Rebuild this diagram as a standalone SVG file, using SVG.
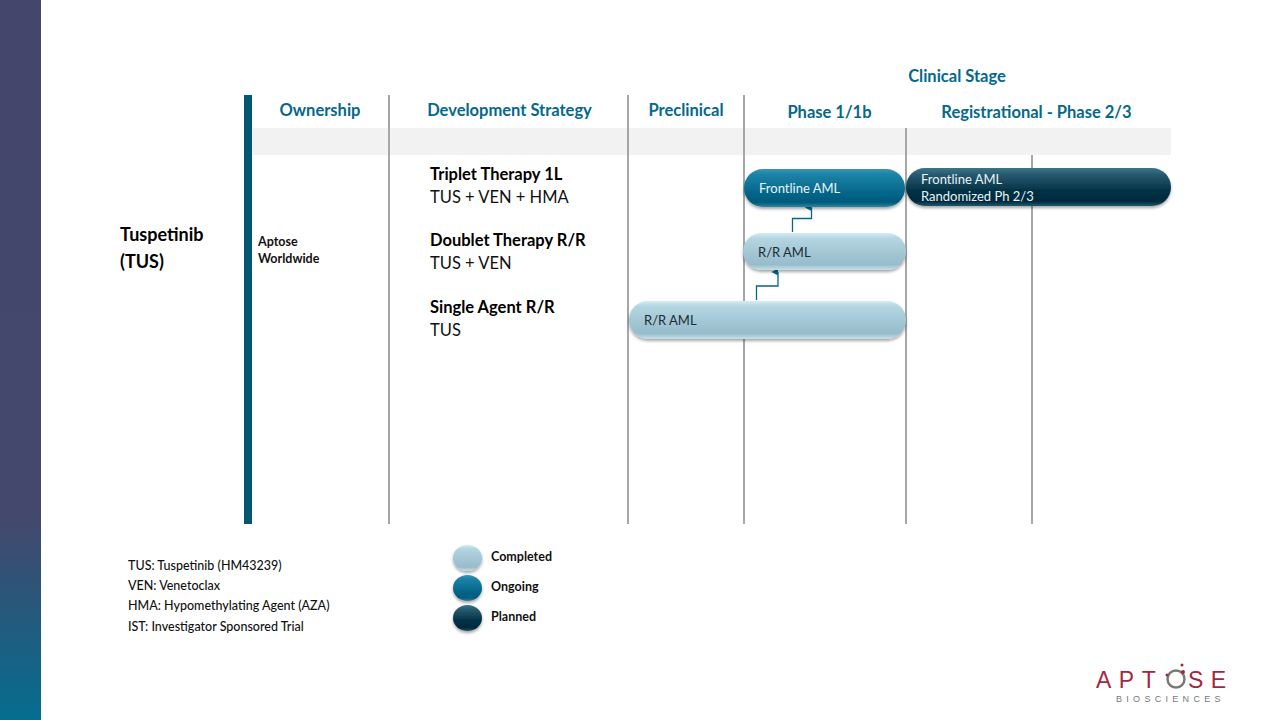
<svg xmlns="http://www.w3.org/2000/svg" width="1280" height="720" viewBox="0 0 1280 720">
<style>
text{font-family:Lato,"Open Sans","Liberation Sans",sans-serif}
.h{font-size:16.5px;font-weight:700;fill:#03688c;text-anchor:middle}
.t{font-size:16.5px;font-weight:700;fill:#000}
.s{font-size:16.5px;fill:#111}
.k{font-size:12.5px;font-weight:700;fill:#111}
.w{font-size:12.5px;font-weight:500;fill:#111}
.pd{font-size:13px;fill:#1d2b33}
.pl{font-size:13px;fill:#e8f3f7}
.v{stroke:#a6a6a6;stroke-width:2;fill:none}
.c{stroke:#03688c;stroke-width:1.3;fill:none;marker-end:url(#ah)}
</style>
<defs>
<linearGradient id="side" x1="0" y1="0" x2="0" y2="1"><stop offset="0" stop-color="#44466b"/><stop offset=".72" stop-color="#43486c"/><stop offset="1" stop-color="#046d8f"/></linearGradient>
<linearGradient id="gc" x1="0" y1="0" x2="0" y2="1"><stop offset="0" stop-color="#d5ecf3"/><stop offset=".14" stop-color="#b4d6e2"/><stop offset=".55" stop-color="#a2c6d4"/><stop offset=".85" stop-color="#97bccb"/><stop offset="1" stop-color="#c5e0e9"/></linearGradient>
<linearGradient id="go" x1="0" y1="0" x2="0" y2="1"><stop offset="0" stop-color="#3b94b2"/><stop offset=".15" stop-color="#1c83a6"/><stop offset=".6" stop-color="#05688c"/><stop offset=".88" stop-color="#045a7a"/><stop offset="1" stop-color="#2a87a6"/></linearGradient>
<linearGradient id="gp" x1="0" y1="0" x2="0" y2="1"><stop offset="0" stop-color="#3f7488"/><stop offset=".18" stop-color="#27596e"/><stop offset=".6" stop-color="#033246"/><stop offset=".88" stop-color="#03293b"/><stop offset="1" stop-color="#1f5a70"/></linearGradient>
<filter id="sh" x="-10%" y="-20%" width="120%" height="150%"><feDropShadow dx="0" dy="2" stdDeviation="1.6" flood-color="#000" flood-opacity=".35"/></filter>
<marker id="ah" viewBox="0 0 8 8" refX="4" refY="7.5" markerWidth="7" markerHeight="8" markerUnits="userSpaceOnUse" orient="auto-start-reverse"><path d="M8 4 0.5 8 0.5 0Z" transform="rotate(-90 4 4)" fill="#03688c"/></marker>
</defs>
<rect id="side-bar" width="41" height="720" fill="url(#side)"/>
<g id="grid">
<rect x="252" y="128" width="919" height="27" fill="#f2f2f2"/>
<rect x="244" y="95" width="8" height="429" fill="#05566f"/>
<path class="v" d="M389 95V524M628 95V524M744 95V524M906 128V524M1032 155V524"/>
</g>
<g id="headers">
<text class="h" x="320" y="116">Ownership</text>
<text class="h" x="509.500" y="116">Development Strategy</text>
<text class="h" x="686" y="116">Preclinical</text>
<text class="h" x="829.500" y="118">Phase 1/1b</text>
<text class="h" x="1036.500" y="118">Registrational - Phase 2/3</text>
<text class="h" x="957" y="82">Clinical Stage</text>
</g>
<g id="drug"><text class="t" x="120" y="241" style="font-size:18px">Tuspetinib</text><text class="t" x="120" y="268" style="font-size:18px">(TUS)</text></g>
<g id="owner"><text class="k" x="258" y="246">Aptose</text><text class="k" x="258" y="263">Worldwide</text></g>
<g id="strategy">
<text class="t" x="430" y="180">Triplet Therapy 1L</text><text class="s" x="430" y="203">TUS + VEN + HMA</text>
<text class="t" x="430" y="246">Doublet Therapy R/R</text><text class="s" x="430" y="269">TUS + VEN</text>
<text class="t" x="430" y="313">Single Agent R/R</text><text class="s" x="430" y="336">TUS</text>
</g>
<g id="connectors">
<path class="c" d="M792.500 232V218.500H811.500V207.500"/>
<path class="c" d="M756.500 300V286H778V272"/>
</g>
<g id="bar-frontline-ongoing"><rect x="744" y="169" width="161" height="38" rx="19" fill="url(#go)" filter="url(#sh)"/><text class="pl" x="759" y="193">Frontline AML</text></g>
<g id="bar-frontline-planned"><rect x="906" y="168" width="265" height="38" rx="19" fill="url(#gp)" filter="url(#sh)"/><text class="pl" x="921" y="184">Frontline AML</text><text class="pl" x="921" y="201">Randomized Ph 2/3</text></g>
<g id="bar-rr-phase1"><rect x="743" y="233" width="163" height="37" rx="18.500" fill="url(#gc)" filter="url(#sh)"/><text class="pd" x="758" y="257">R/R AML</text></g>
<g id="bar-rr-preclinical"><rect x="629" y="301" width="277" height="38" rx="19" fill="url(#gc)" filter="url(#sh)"/><text class="pd" x="644" y="325">R/R AML</text></g>
<g id="abbreviations">
<text class="w" x="128" y="570">TUS: Tuspetinib (HM43239)</text>
<text class="w" x="128" y="590">VEN: Venetoclax</text>
<text class="w" x="128" y="610">HMA: Hypomethylating Agent (AZA)</text>
<text class="w" x="128" y="631">IST: Investigator Sponsored Trial</text>
</g>
<g id="legend">
<ellipse cx="467.500" cy="558" rx="14.500" ry="13" fill="url(#gc)" filter="url(#sh)"/>
<ellipse cx="467.500" cy="588" rx="14.500" ry="13" fill="url(#go)" filter="url(#sh)"/>
<ellipse cx="467.500" cy="618" rx="14.500" ry="13" fill="url(#gp)" filter="url(#sh)"/>
<text class="k" x="491" y="561">Completed</text><text class="k" x="491" y="591">Ongoing</text><text class="k" x="491" y="621">Planned</text>
</g>
<g id="logo">
<text x="1096" y="688" style="font-size:23px;fill:#a3283f;letter-spacing:7.500px;font-family:'Liberation Sans',sans-serif">APT</text>
<circle cx="1176" cy="679" r="8.500" fill="none" stroke="#7a7a76" stroke-width="2.500"/>
<circle cx="1183" cy="672" r="2" fill="#a3283f"/><circle cx="1182" cy="665" r="1.500" fill="#a3283f"/><circle cx="1167" cy="675" r="1.500" fill="#a3283f"/>
<text x="1188" y="688" style="font-size:23px;fill:#a3283f;letter-spacing:7.500px;font-family:'Liberation Sans',sans-serif">SE</text>
<text x="1116" y="702" style="font-size:9px;fill:#777;letter-spacing:4.300px;font-family:'Liberation Sans',sans-serif">BIOSCIENCES</text>
</g>
</svg>
